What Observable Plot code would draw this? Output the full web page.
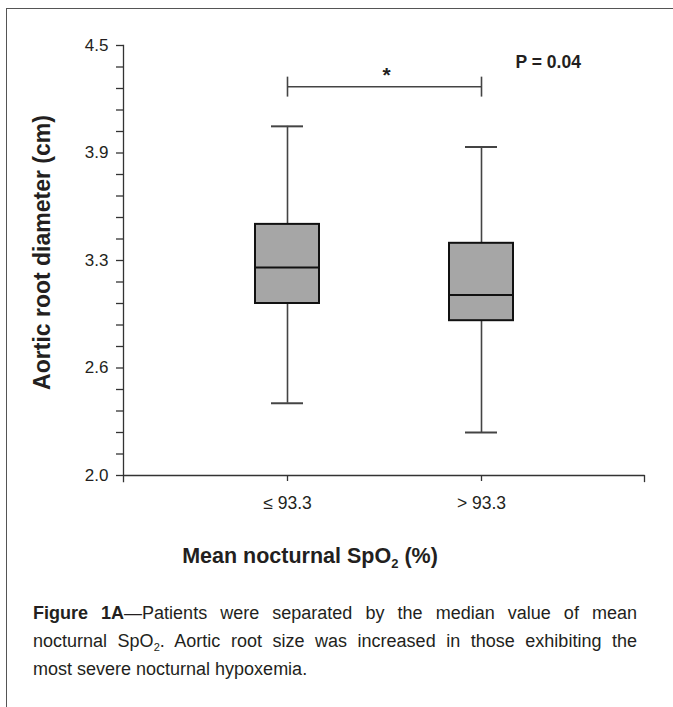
<!DOCTYPE html>
<html><head><meta charset="utf-8">
<script src="https://cdn.jsdelivr.net/npm/d3@7"></script>
<script src="https://cdn.jsdelivr.net/npm/@observablehq/plot@0.6"></script>
<style>
body{margin:0;background:#fff;}
#wrap{position:relative;width:673px;height:707px;overflow:hidden;font-family:"Liberation Sans Narrow","Arial Narrow","Liberation Sans",Arial,sans-serif;color:#231f20;}
#frame{position:absolute;left:6px;top:8px;width:720px;height:720px;border-top:1.5px solid #555;border-left:1.5px solid #555;}
#chart{position:absolute;left:0;top:0;}
#xtitle{position:absolute;left:160px;width:300px;top:544px;text-align:center;font-weight:bold;font-size:21.5px;line-height:24px;white-space:nowrap;}
#xtitle sub{font-size:13px;vertical-align:-5px;line-height:0;}
#caption{position:absolute;left:33px;width:604px;top:599px;font-size:18px;line-height:28px;}
#caption .j{text-align:justify;text-align-last:justify;white-space:nowrap;}
#caption sub{font-size:11px;vertical-align:-4px;line-height:0;}
</style></head><body>
<div id="wrap">
<div id="frame"></div>
<div id="chart"></div>
<div id="xtitle">Mean nocturnal SpO<sub>2</sub> (%)</div>
<div id="caption">
<div class="j"><b>Figure 1A</b>—Patients were separated by the median value of mean</div>
<div class="j">nocturnal SpO<sub>2</sub>. Aortic root size was increased in those exhibiting the</div>
<div>most severe nocturnal hypoxemia.</div>
</div>
</div>
<script>
// ---- data ----
const groups = ["≤ 93.3", "> 93.3"];
const whiskerLow = [2.42, 2.25];
const quartile1 = [3.00, 2.90];
const medians = [3.21, 3.05];
const quartile3 = [3.46, 3.35];
const whiskerHigh = [4.03, 3.91];
const yMajorTicks = [2.0, 2.625, 3.25, 3.875, 4.5];
const yMajorLabels = ["2.0", "2.6", "3.3", "3.9", "4.5"];
const yMinorTicks = [2.125, 2.25, 2.375, 2.5, 2.75, 2.875, 3.0, 3.125, 3.375, 3.5, 3.625, 3.75, 4.0, 4.125, 4.25, 4.375];
const bracketLevel = [4.26];
const bracketEnds = [4.2, 4.316];
const starLevel = [4.325];
const sigMark = "*";
const pLabel = "P = 0.04";
const yTitle = "Aortic root diameter (cm)";

const rows = groups.map((g, i) => ({
  group: g, lo: whiskerLow[i], q1: quartile1[i], med: medians[i], q3: quartile3[i], hi: whiskerHigh[i]
}));

const FONT = '"Liberation Sans Narrow","Arial Narrow","Liberation Sans",Arial,sans-serif';
const H = 520;
const chart = Plot.plot({
  width: 673, height: H,
  marginLeft: 123, marginRight: 29, marginTop: 45, marginBottom: H - 475,
  style: {fontFamily: FONT, fontSize: "17px", color: "#231f20", background: "transparent", overflow: "visible"},
  x: {domain: groups, padding: 0.672, label: null},
  y: {domain: [2, 4.5], label: null},
  marks: [
    Plot.axisY({ticks: yMinorTicks, tickSize: 7, tickFormat: () => "", stroke: "#333", strokeWidth: 1.3, label: null}),
    Plot.axisY({ticks: yMajorTicks, tickSize: 7, tickPadding: 8, stroke: "#333", strokeWidth: 1.3,
      tickFormat: d => yMajorLabels[yMajorTicks.indexOf(d)], fontSize: 17, fill: "#231f20", label: null}),
    Plot.frame({anchor: "left", insetBottom: -6, stroke: "#333", strokeWidth: 1.3}),
    Plot.ruleY([2], {stroke: "#333", strokeWidth: 1.3}),
    Plot.frame({anchor: "right", insetTop: 430, insetBottom: -6, stroke: "#333", strokeWidth: 1.3}),
    Plot.axisX({tickSize: 6, tickPadding: 15, stroke: "#333", strokeWidth: 1.3, fontSize: 17.5, fill: "#231f20", label: null}),
    // whiskers
    Plot.ruleX(rows, {x: "group", y1: "q3", y2: "hi", stroke: "#444", strokeWidth: 1.6}),
    Plot.ruleX(rows, {x: "group", y1: "lo", y2: "q1", stroke: "#444", strokeWidth: 1.6}),
    Plot.tickY(rows, {x: "group", y: "hi", insetLeft: 16, insetRight: 16, stroke: "#444", strokeWidth: 2}),
    Plot.tickY(rows, {x: "group", y: "lo", insetLeft: 16, insetRight: 16, stroke: "#444", strokeWidth: 2}),
    // boxes
    Plot.barY(rows, {x: "group", y1: "q1", y2: "q3", fill: "#a6a6a6", stroke: "#111", strokeWidth: 2}),
    Plot.tickY(rows, {x: "group", y: "med", stroke: "#111", strokeWidth: 2}),
    // significance bracket
    Plot.ruleY(bracketLevel, {x1: () => groups[0], x2: () => groups[1], y: d => d, insetLeft: 32, insetRight: 32, stroke: "#444", strokeWidth: 1.6}),
    Plot.ruleX(groups, {x: d => d, y1: () => bracketEnds[0], y2: () => bracketEnds[1], stroke: "#444", strokeWidth: 1.6}),
    Plot.text(starLevel, {x: () => groups[0], y: d => d, text: () => sigMark, dx: 99, fontWeight: "bold", fontSize: 21, fill: "#231f20"}),
    Plot.text([pLabel], {frameAnchor: "top-right", textAnchor: "start", dx: -129, dy: 10, fontWeight: "bold", fontSize: 17.5, fill: "#231f20"}),
    Plot.text([yTitle], {frameAnchor: "left", rotate: -90, textAnchor: "middle", dx: -81, dy: -8, fontWeight: "bold", fontSize: 23, fill: "#231f20"})
  ]
});
document.getElementById("chart").appendChild(chart);
</script>
</body></html>
